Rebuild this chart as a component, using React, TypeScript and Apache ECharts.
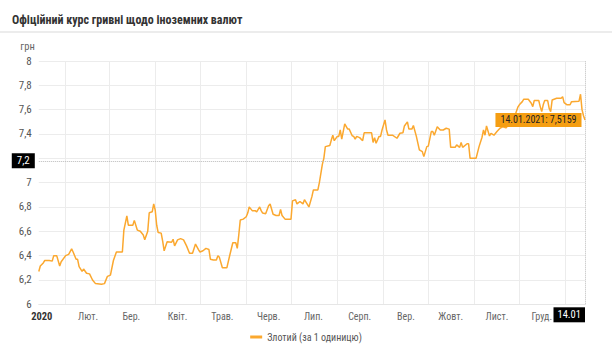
import React, { useEffect, useRef } from "react";
import * as echarts from "echarts";

// Day offsets counted from 14.01.2020
const dayOffsets = [
  0, 1, 3, 4, 7, 9, 10, 12, 14, 15, 18, 20, 22, 23, 25, 26, 27, 29, 30, 32, 34, 36, 38, 42, 44, 46, 48, 50, 52, 56,
  57, 59, 60, 63, 64, 66, 68, 70, 71, 73, 74, 76, 77, 78, 79, 80, 82, 83, 84, 86, 89, 90, 91, 93, 95, 97, 99, 101,
  103, 105, 107, 108, 110, 112, 114, 115, 117, 119, 120, 121, 123, 126, 128, 130, 132, 133, 134, 135, 137, 139, 140,
  141, 143, 145, 146, 148, 149, 150, 152, 154, 155, 157, 159, 161, 162, 163, 165, 169, 170, 172, 173, 175, 177, 178,
  181, 183, 184, 187, 188, 190, 191, 192, 195, 196, 197, 198, 200, 201, 202, 203, 205, 207, 208, 210, 211, 212, 213,
  215, 217, 218, 221, 223, 224, 225, 226, 228, 229, 230, 232, 233, 234, 237, 240, 242, 244, 245, 247, 248, 250, 251,
  253, 255, 257, 258, 260, 261, 263, 264, 265, 267, 269, 271, 273, 275, 276, 279, 280, 282, 283, 284, 287, 288, 289,
  293, 295, 297, 298, 299, 300, 302, 303, 305, 307, 309, 311, 313, 315, 317, 319, 321, 322, 324, 325, 328, 330, 331,
  332, 335, 336, 337, 338, 339, 341, 342, 343, 344, 347, 350, 351, 352, 354, 356, 357, 362, 363, 364, 365, 366,
];

const zlotyRates = [
  6.27, 6.315, 6.34, 6.36, 6.36, 6.355, 6.4, 6.4, 6.315, 6.35, 6.4, 6.41, 6.455, 6.43, 6.37, 6.37, 6.31, 6.27, 6.29,
  6.255, 6.25, 6.2, 6.17, 6.165, 6.17, 6.23, 6.24, 6.36, 6.43, 6.43,
  6.61, 6.726, 6.65, 6.65, 6.69, 6.61, 6.6, 6.57, 6.53, 6.6, 6.753, 6.76, 6.825, 6.775, 6.65, 6.59, 6.585, 6.52, 6.44,
  6.515, 6.51, 6.535, 6.48, 6.53, 6.54, 6.53, 6.48, 6.42,
  6.42, 6.495, 6.45, 6.43, 6.44, 6.46, 6.45, 6.37, 6.364, 6.364, 6.4, 6.386, 6.3, 6.3, 6.405, 6.506, 6.506, 6.46, 6.57,
  6.693, 6.7, 6.72, 6.75,
  6.8, 6.77, 6.77, 6.76, 6.8, 6.77, 6.75, 6.745, 6.81, 6.825, 6.74, 6.73, 6.73, 6.78, 6.73, 6.7, 6.7, 6.85, 6.86, 6.825,
  6.845, 6.825, 6.86,
  6.8, 6.885, 6.94, 6.94, 7.0, 7.15, 7.2, 7.296, 7.305, 7.35, 7.39, 7.345, 7.38, 7.38, 7.433, 7.357, 7.483, 7.44, 7.44,
  7.385, 7.38, 7.357, 7.38,
  7.37, 7.345, 7.41, 7.41, 7.41, 7.33, 7.37, 7.324, 7.38, 7.38, 7.433, 7.516, 7.433, 7.39, 7.39, 7.365, 7.406, 7.41,
  7.466, 7.5, 7.44, 7.44, 7.47,
  7.38, 7.27, 7.255, 7.214, 7.296, 7.3, 7.42, 7.42, 7.39, 7.46, 7.433, 7.433, 7.447, 7.44, 7.29, 7.29, 7.31, 7.29, 7.33,
  7.29, 7.32, 7.32, 7.2,
  7.2, 7.296, 7.373, 7.433, 7.39, 7.466, 7.384, 7.406, 7.39, 7.42, 7.447, 7.46, 7.45, 7.48, 7.5, 7.55, 7.62, 7.64,
  7.666, 7.686, 7.686, 7.653, 7.625,
  7.675, 7.675, 7.625, 7.584, 7.64, 7.675, 7.675, 7.61, 7.584, 7.68, 7.694, 7.694, 7.707, 7.658, 7.64, 7.64, 7.666,
  7.67, 7.727, 7.6, 7.55, 7.5159,
];

const monthStartDays = [18, 47, 78, 108, 139, 169, 200, 231, 261, 292, 322, 353];
const monthLabelDays = [2, 33, 62, 93, 123, 154, 184, 215, 246, 276, 307, 337];
const monthLabels = ["2020", "Лют.", "Бер.", "Квіт.", "Трав.", "Черв.", "Лип.", "Серп.", "Вер.", "Жовт.", "Лист.", "Груд."];

const seriesName = "Злотий (за 1 одиницю)";
const cursorValue = 7.18;
const cursorLabel = "7,2";
const lastDay = 366;
const lastDayLabel = "14.01";
const lastValueLabel = "14.01.2021: 7,5159";

const FONT = "'Liberation Sans Narrow', 'Roboto Condensed', 'DejaVu Sans Condensed', Roboto, sans-serif";
const LINE_COLOR = "#fba82f";

export default function App() {
  const ref = useRef<HTMLDivElement>(null);

  useEffect(() => {
    if (!ref.current) return;
    const chart = echarts.init(ref.current, undefined, { renderer: "svg" });
    const data = dayOffsets.map((d, i) => [d, zlotyRates[i]]);
    const last = data[data.length - 1];

    chart.setOption({
      animation: false,
      backgroundColor: "#fff",
      textStyle: { fontFamily: FONT },
      title: {
        text: "Офіційний курс гривні щодо іноземних валют",
        left: 7,
        top: 9,
        textStyle: { fontSize: 12, fontWeight: "bold", color: "#333", fontFamily: FONT },
      },
      graphic: [
        {
          type: "rect",
          shape: { x: 0, y: 31, width: 612, height: 2 },
          style: { fill: "#ececec" },
          silent: true,
        },
      ],
      legend: {
        bottom: 3,
        left: "center",
        icon: "rect",
        itemWidth: 12,
        itemHeight: 3,
        itemGap: 8,
        textStyle: { fontSize: 10, color: "#555", fontFamily: FONT },
        data: [seriesName],
      },
      grid: { left: 38.8, right: 27, top: 61, bottom: 45.7, containLabel: false },
      xAxis: {
        type: "value",
        min: 0,
        max: lastDay,
        axisLine: { show: true, lineStyle: { color: "#e6e6e6" } },
        axisTick: { show: false, customValues: monthStartDays },
        splitLine: { show: true, lineStyle: { color: "#ececec", width: 1 } },
        axisLabel: {
          customValues: monthLabelDays,
          margin: 7,
          fontSize: 10,
          color: "#666",
          fontFamily: FONT,
          formatter: (v: number) => {
            const i = monthLabelDays.indexOf(Math.round(v));
            if (i < 0) return "";
            return i === 0 ? `{b|${monthLabels[i]}}` : monthLabels[i];
          },
          rich: { b: { fontWeight: "bold", color: "#333", fontSize: 10.5, fontFamily: FONT } },
        },
      },
      yAxis: {
        type: "value",
        min: 6,
        max: 8,
        interval: 0.2,
        name: "грн",
        nameLocation: "end",
        nameGap: 9,
        nameTextStyle: { fontSize: 10.5, color: "#666", align: "right", padding: [0, 4, 0, 0], fontFamily: FONT },
        axisLine: { show: false },
        axisTick: { show: false },
        splitLine: { lineStyle: { color: "#ececec", width: 1 } },
        axisLabel: {
          margin: 7,
          fontSize: 11,
          color: "#555",
          fontFamily: FONT,
          // the 7,2 tick label sits under the cursor badge
          formatter: (v: number) => {
            const r = Math.round(v * 10) / 10;
            if (Math.abs(r - 7.2) < 1e-6) return "";
            return String(r).replace(".", ",");
          },
        },
      },
      series: [
        {
          name: seriesName,
          type: "line",
          data,
          showSymbol: false,
          symbol: "none",
          lineStyle: { color: LINE_COLOR, width: 1.5 },
          itemStyle: { color: LINE_COLOR },
          markLine: {
            silent: true,
            symbol: ["none", "none"],
            animation: false,
            data: [
              {
                yAxis: cursorValue,
                lineStyle: { color: "#bbb", type: "dotted", width: 1 },
                label: {
                  show: true,
                  position: "start",
                  distance: 4,
                  formatter: cursorLabel,
                  backgroundColor: "#000",
                  color: "#fff",
                  fontSize: 11,
                  padding: [2, 5, 2, 5],
                  fontFamily: FONT,
                },
              },
              {
                xAxis: lastDay,
                lineStyle: { color: "#bbb", type: "dotted", width: 1 },
                label: {
                  show: true,
                  position: "start",
                  distance: 3,
                  align: "right",
                  formatter: lastDayLabel,
                  backgroundColor: "#000",
                  color: "#fff",
                  fontSize: 10.5,
                  padding: [2, 4, 2, 4],
                  fontFamily: FONT,
                },
              },
            ],
          },
          markPoint: {
            silent: true,
            animation: false,
            symbol: "circle",
            symbolSize: 1,
            itemStyle: { color: "transparent" },
            data: [
              {
                coord: last,
                label: {
                  show: true,
                  position: "left",
                  distance: 3,
                  formatter: lastValueLabel,
                  backgroundColor: "#f59e12",
                  color: "#222",
                  fontSize: 10,
                  padding: [2, 5, 2, 5],
                  fontFamily: FONT,
                },
              },
            ],
          },
        },
      ],
    });

    return () => chart.dispose();
  }, []);

  return (
    <div
      ref={ref}
      style={{ position: "absolute", left: 0, top: 0, width: 612, height: 350, background: "#fff" }}
    />
  );
}
